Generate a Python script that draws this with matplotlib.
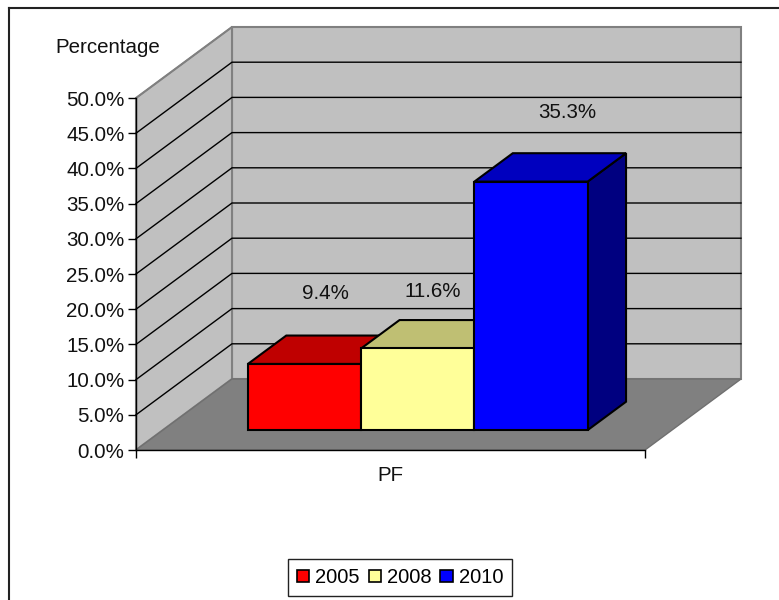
import numpy as np
import matplotlib
matplotlib.use('Agg')
import matplotlib.pyplot as plt
from matplotlib.patches import Patch
from matplotlib.lines import Line2D

years = ['2005', '2008', '2010']
values = [9.4, 11.6, 35.3]
category = 'PF'
yticks = [0, 5, 10, 15, 20, 25, 30, 35, 40, 45, 50]
front_cols = ['#ff0000', '#ffff99', '#0000ff']
top_cols = ['#bf0000', '#bfbf73', '#0000bf']
side_cols = ['#800000', '#808040', '#000080']
# label offset from the bar top, in pixels
label_off = [(-17, 42), (-23, 29), (-2.5, 41)]

W, H = 779, 600
plt.rcParams['font.family'] = ['Liberation Sans', 'DejaVu Sans']
plt.rcParams['font.size'] = 14.8

fig = plt.figure(figsize=(W/100, H/100), dpi=100)
# front plane of the chart box
ax = fig.add_axes([136/W, 1-450/H, 509/W, 352/H])
ax.set_xlim(0, 1)
ax.set_ylim(0, 50)
ax.patch.set_visible(False)

# oblique depth, the back wall sits this far from the front plane
DX = 96/509
DY = 71/352*50

def proj(x, y, d):
    return x + d*DX, y + d*DY

def face(pts, col, ec='black', lw=1.5, z=3):
    xy = [proj(*p) for p in pts]
    ax.fill([p[0] for p in xy], [p[1] for p in xy], facecolor=col, edgecolor=ec,
            linewidth=lw, clip_on=False, zorder=z, joinstyle='miter')

# walls and floor
face([(0, 0, 1), (1, 0, 1), (1, 50, 1), (0, 50, 1)], '#c0c0c0', '#808080', 1.5, 1)
face([(0, 0, 0), (0, 0, 1), (0, 50, 1), (0, 50, 0)], '#c0c0c0', '#808080', 1.5, 1)
face([(0, 0, 0), (1, 0, 0), (1, 0, 1), (0, 0, 1)], '#808080', '#707070', 1.0, 2)

for t in yticks[1:]:
    xs, ys = zip(proj(0, t, 0), proj(0, t, 1), proj(1, t, 1))
    lc = '#808080' if t == 50 else 'black'
    ax.plot(xs, ys, color=lc, lw=1.0, clip_on=False, zorder=1.5)

# bars
bar_w = 0.2225
x0 = 0.167
d0, d1 = 0.28, 0.68
for i, v in enumerate(values):
    xa = x0 + i*bar_w
    xb = xa + bar_w
    face([(xb, 0, d0), (xb, 0, d1), (xb, v, d1), (xb, v, d0)], side_cols[i])
    face([(xa, v, d0), (xb, v, d0), (xb, v, d1), (xa, v, d1)], top_cols[i])
    face([(xa, 0, d0), (xb, 0, d0), (xb, v, d0), (xa, v, d0)], front_cols[i])
    lx, ly = proj((xa+xb)/2, v, d1)
    ax.annotate(f'{v:.1f}%', (lx, ly), xytext=label_off[i], textcoords='offset pixels',
                ha='center', va='center', color='#111111', zorder=5, annotation_clip=False)

for s in ['top', 'right']:
    ax.spines[s].set_visible(False)
for s in ['left', 'bottom']:
    ax.spines[s].set_linewidth(1.0)
    ax.spines[s].set_zorder(4)

ax.set_yticks(yticks)
ax.set_yticklabels([f'{t:.1f}%' for t in yticks], color='#111111')
ax.tick_params(axis='y', length=5.8, width=1.0, pad=2.5)
ax.set_xticks([0, 1])
ax.set_xticklabels(['', ''])
ax.tick_params(axis='x', length=5.8, width=1.0)
ax.set_xticks([0.5], minor=True)
ax.set_xticklabels([category], minor=True, color='#111111')
ax.tick_params(axis='x', which='minor', length=0, pad=11.5)

fig.text(108/W, 1-47.5/H, 'Percentage', ha='center', va='center', color='#111111')

# outer frame, only top and left are inside the picture
fig.add_artist(Line2D([8.5/W, 8.5/W], [0, 1-7.5/H], color='#222222', lw=1.5))
fig.add_artist(Line2D([8.5/W, 1], [1-7.5/H, 1-7.5/H], color='#222222', lw=1.5))

handles = [Patch(facecolor=c, edgecolor='black', linewidth=1.2) for c in front_cols]
leg = fig.legend(handles, years, ncols=3, loc='center', bbox_to_anchor=(400/W, 1-577.5/H),
                 frameon=True, fancybox=False, edgecolor='#222222', framealpha=1,
                 fontsize=14.5, handlelength=0.6, handleheight=0.6, handletextpad=0.3,
                 columnspacing=0.45, borderpad=0.45, borderaxespad=0, labelcolor='black')
leg.get_frame().set_linewidth(1.0)

fig.savefig('out.png', dpi=100)
